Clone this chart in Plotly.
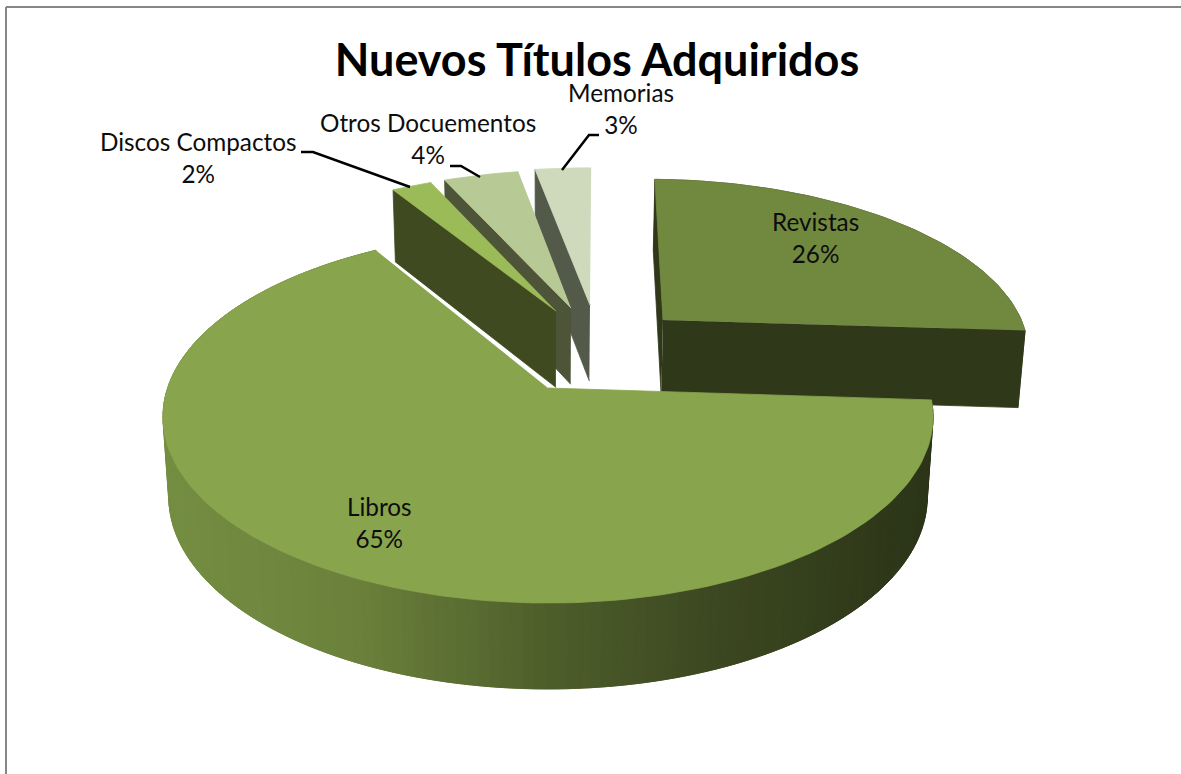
import numpy as np
import plotly.graph_objects as go

# Data
categories = ["Revistas", "Libros", "Discos Compactos", "Otros Docuementos", "Memorias"]
values = [25.7, 65.4, 2.1, 3.9, 2.9]
labels_pct = [26, 65, 2, 4, 3]

# Style
top_colors = ["#71893f", "#88a44d", "#9bbb59", "#b7c994", "#cfd9bb"]
wall_colors = ["#30381a", "#4f5e2b", "#3f4a20", "#4d5438", "#545a4a"]
libros_grad_x = [165, 350, 550, 720, 930]
libros_grad_rgb = [(116, 142, 66), (108, 130, 60), (78, 94, 43), (60, 72, 33), (44, 53, 24)]
explode = [(0.3209, -0.3973), (0, 0), (0.0225, -0.4536), (0.0649, -0.4725), (0.1188, -0.4916)]
first_angle = 1.2
draw_order = [4, 3, 2, 0, 1]

label_pos = [(815, 237), (379, 522), (198, 157), (428, 138), (621, 108)]
leaders = [
    ([301, 313, 410], [152, 152, 187]),
    ([450, 461, 480], [166, 166, 177]),
    ([562, 589, 599], [170, 135, 135]),
]

# Projection
CX, CY, R, S, K, DEPTH, SHRINK = 548.0, 388.0, 380.4, 181.7, 0.155, 79.0, 0.985


def project(X, Y, bottom=False):
    X, Y = np.asarray(X, float), np.asarray(Y, float)
    w = 1 - K * Y
    px = R * X / w
    py = S * Y / w
    if bottom:
        return CX + px * SHRINK, CY + py + DEPTH / np.sqrt(w)
    return CX + px, CY + py


def poly(fig, xs, ys, color):
    fig.add_trace(go.Scatter(x=list(xs), y=list(ys), mode="lines", fill="toself",
                             fillcolor=color, line=dict(color=color, width=0.8),
                             hoverinfo="skip", showlegend=False))


fig = go.Figure()
edges = first_angle + np.concatenate([[0], np.cumsum(values)]) * 360 / sum(values)

for i in draw_order:
    a0, a1 = np.radians(edges[i]), np.radians(edges[i + 1])
    ox, oy = explode[i]
    th = np.linspace(a0, a1, max(8, int((a1 - a0) * 40)))
    AX, AY = np.sin(th) + ox, -np.cos(th) + oy

    # radial walls: Revistas shows both, the three small slices only their left one
    if i != 1:
        for a in ((a0, a1) if i == 0 else (a0,)):
            xo, yo = np.sin(a) + ox, -np.cos(a) + oy
            tx, ty = project([ox, xo], [oy, yo])
            bx, by = project([ox, xo], [oy, yo], bottom=True)
            poly(fig, [tx[0], tx[1], bx[1], bx[0]], [ty[0], ty[1], by[1], by[0]], wall_colors[i])

    # outer wall
    tx, ty = project(AX, AY)
    bx, by = project(AX, AY, bottom=True)
    if i == 1:
        # overlapping slices, painted in turn, give a smooth shading across the wall
        for j in range(len(th) - 1):
            k2 = min(j + 2, len(th) - 1)
            xm = (tx[j] + tx[j + 1]) / 2
            c = [np.interp(xm, libros_grad_x, [p[k] for p in libros_grad_rgb]) for k in range(3)]
            poly(fig, [tx[j], tx[k2], bx[k2], bx[j]], [ty[j], ty[k2], by[k2], by[j]],
                 "rgb(%d,%d,%d)" % tuple(c))
    elif i == 0:
        poly(fig, np.r_[tx, bx[::-1]], np.r_[ty, by[::-1]], wall_colors[i])

    # top face
    cx0, cy0 = project([ox], [oy])
    poly(fig, np.r_[cx0, tx], np.r_[cy0, ty], top_colors[i])

# leader lines
for lx, ly in leaders:
    fig.add_trace(go.Scatter(x=lx, y=ly, mode="lines", line=dict(color="#000000", width=2.5),
                             hoverinfo="skip", showlegend=False))

# data labels
for name, pct, (lx, ly) in zip(categories, labels_pct, label_pos):
    fig.add_annotation(x=lx, y=ly, xref="x", yref="y", text=f"{name}<br>{pct}%", showarrow=False,
                       font=dict(family="Lato", size=24.3, color="#0d0d0d"), align="center")

# frame
fig.add_shape(type="line", x0=6, x1=1181, y0=7, y1=7, xref="x", yref="y",
              line=dict(color="#868686", width=2))
fig.add_shape(type="line", x0=6, x1=6, y0=7, y1=774, xref="x", yref="y",
              line=dict(color="#868686", width=2))

fig.update_layout(
    width=1181, height=774, margin=dict(l=0, r=0, t=0, b=0),
    paper_bgcolor="white", plot_bgcolor="white", showlegend=False,
    xaxis=dict(range=[0, 1181], visible=False, fixedrange=True),
    yaxis=dict(range=[774, 0], visible=False, fixedrange=True),
    title=dict(text="<b>Nuevos Títulos Adquiridos</b>", x=597 / 1181, y=1 - 60 / 774,
               xanchor="center", yanchor="middle",
               font=dict(family="Lato", size=45, color="#000000")),
)
fig.write_html("out.html", config={"displayModeBar": False},
               post_script="document.body.style.margin='0';document.body.style.overflow='hidden';")
